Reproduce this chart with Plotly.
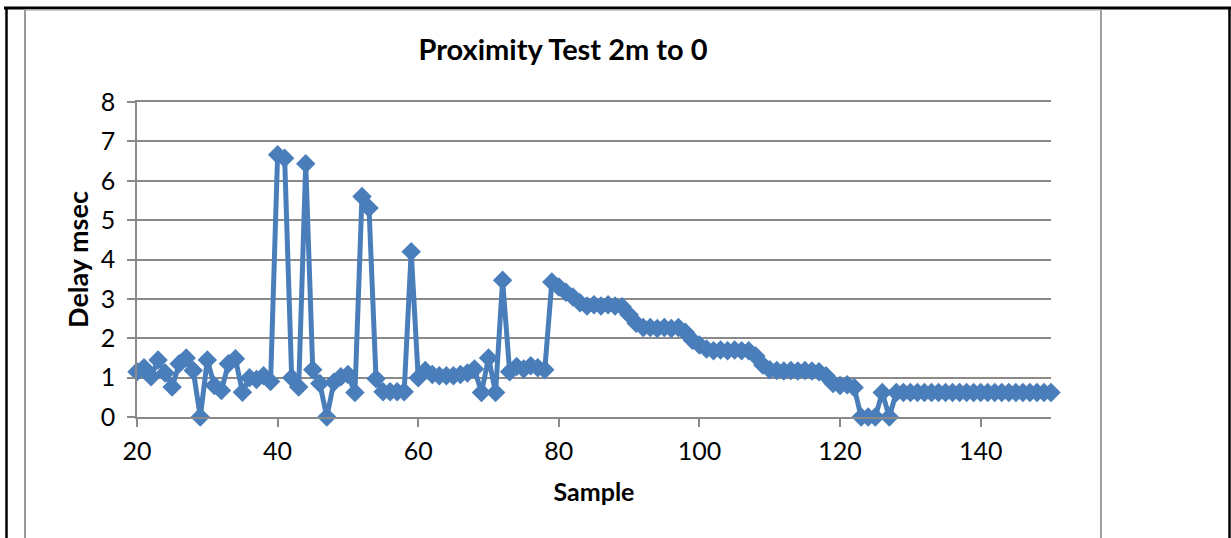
import plotly.graph_objects as go

samples = list(range(20, 151))
delay = [
    1.15, 1.25, 1.02, 1.45, 1.12, 0.76, 1.35, 1.50, 1.18, 0.00,   # 20-29
    1.45, 0.80, 0.67, 1.35, 1.48, 0.63, 1.00, 0.95, 1.05, 0.90,   # 30-39
    6.66, 6.57, 1.00, 0.76, 6.43, 1.20, 0.85, 0.00, 0.88, 1.02,   # 40-49
    1.08, 0.62, 5.60, 5.31, 0.97, 0.64, 0.64, 0.64, 0.64, 4.20,   # 50-59
    1.00, 1.18, 1.08, 1.05, 1.05, 1.05, 1.08, 1.12, 1.22, 0.62,   # 60-69
    1.50, 0.62, 3.47, 1.15, 1.28, 1.22, 1.30, 1.25, 1.20, 3.43,   # 70-79
    3.30, 3.17, 3.05, 2.90, 2.82, 2.85, 2.82, 2.85, 2.82, 2.80,   # 80-89
    2.60, 2.38, 2.27, 2.27, 2.25, 2.27, 2.25, 2.27, 2.15, 1.95,   # 90-99
    1.83, 1.73, 1.68, 1.70, 1.68, 1.70, 1.68, 1.68, 1.55, 1.32,   # 100-109
    1.20, 1.18, 1.17, 1.18, 1.17, 1.18, 1.17, 1.15, 1.05, 0.85,   # 110-119
    0.80, 0.82, 0.75, 0.00, 0.00, 0.00, 0.62, 0.00, 0.62, 0.62,   # 120-129
    0.62, 0.62, 0.62, 0.62, 0.62, 0.62, 0.62, 0.62, 0.62, 0.62,   # 130-139
    0.62, 0.62, 0.62, 0.62, 0.62, 0.62, 0.62, 0.62, 0.62, 0.62,   # 140-149
    0.62,                                                         # 150
]
x_ticks = [20, 40, 60, 80, 100, 120, 140]
y_ticks = [0, 1, 2, 3, 4, 5, 6, 7, 8]

W, H = 1231, 538
L, R, T, B = 137, 1051, 102, 417
PW, PH = R - L, B - T

def px(x):
    return (x - L) / PW

def py(y):
    return (B - y) / PH

FONT = "Lato"
BLUE = "#4A7EBB"
GRID = "#8a8a8a"

fig = go.Figure()
fig.add_trace(go.Scatter(
    x=samples, y=delay, mode="lines+markers",
    line=dict(color=BLUE, width=5),
    marker=dict(symbol="diamond", size=15, color=BLUE),
    cliponaxis=False, showlegend=False,
))

shapes = []
def vline(x, y0, y1, color, width):
    shapes.append(dict(type="line", xref="paper", yref="paper",
                       x0=px(x), x1=px(x), y0=py(y0), y1=py(y1),
                       line=dict(color=color, width=width), layer="above"))
def hline(y, x0, x1, color, width, layer="above"):
    shapes.append(dict(type="line", xref="paper", yref="paper",
                       x0=px(x0), x1=px(x1), y0=py(y), y1=py(y),
                       line=dict(color=color, width=width), layer=layer))

# document table borders
hline(8, 4, 1231, "#000000", 3)
vline(6.5, 7, 538, "#000000", 2.5)
vline(1229.5, 7, 538, "#000000", 2.5)
hline(9.8, 25, 1101, "#a0a0a0", 1.5)
vline(25, 9.5, 538, "#9a9a9a", 2)
vline(1101, 9.5, 538, "#a0a0a0", 2)

fig.update_layout(
    width=W, height=H,
    margin=dict(l=L, r=W - R, t=T, b=H - B, pad=0),
    paper_bgcolor="white", plot_bgcolor="white",
    font=dict(family=FONT, size=25, color="#000000"),
    shapes=shapes,
    title=dict(text="<b>Proximity Test 2m to 0</b>", x=px(563), xanchor="center",
               y=1 - 50 / H, yanchor="middle", xref="paper",
               font=dict(family=FONT, size=29, color="#000000")),
    xaxis=dict(range=[20, 150], tickvals=x_ticks, ticktext=[str(v) for v in x_ticks],
               showgrid=False, zeroline=False, showline=True, mirror=True,
               linecolor=GRID, linewidth=1.5,
               ticks="outside", ticklen=8, tickwidth=1.5, tickcolor=GRID,
               ticklabelstandoff=3,
               tickfont=dict(family=FONT, size=25),
               title=dict(text="<b>Sample</b>", standoff=20,
                          font=dict(family=FONT, size=25))),
    yaxis=dict(range=[0, 8], tickvals=y_ticks, ticktext=[str(v) for v in y_ticks],
               showgrid=True, gridcolor=GRID, gridwidth=1.5,
               zeroline=False, showline=True, linecolor=GRID, linewidth=1.5,
               ticks="outside", ticklen=8, tickwidth=1.5, tickcolor=GRID,
               ticklabelstandoff=7,
               tickfont=dict(family=FONT, size=25),
               title=dict(text="<b>Delay msec</b>", standoff=4,
                          font=dict(family=FONT, size=27))),
)

fig.write_html("out.html")
